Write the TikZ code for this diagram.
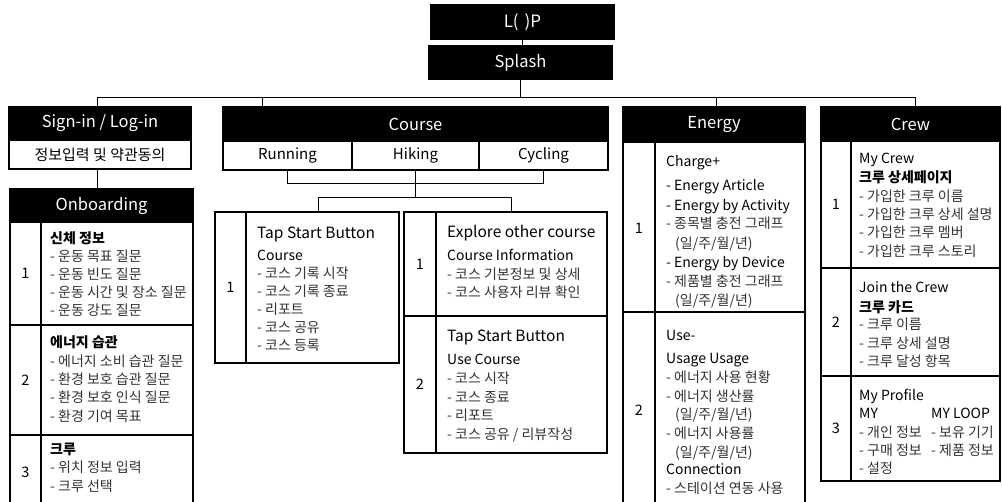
\documentclass[tikz,border=0pt]{standalone}
\usepackage{fontspec}
\setmainfont{Noto Sans CJK KR}
\definecolor{bodygray}{HTML}{333333}
\newcommand\mybox[7][]{\node[bxbase,#1,minimum width={#5pt-#3pt},minimum height={#6pt-#4pt}] (#2) at ({(#3+#5)/2},{(#4+#6)/2}) {#7};}
\begin{document}
\begin{tikzpicture}[x=1pt,y=-1pt,
  bxbase/.style={draw=black,line width=1.1pt,inner sep=0pt,outer sep=0pt},
  hdr/.style={fill=black,text=white,font=\fontsize{16.5}{18}\selectfont},
  sub/.style={fill=white,text=black,font=\fontsize{15}{16}\selectfont},
  cell/.style={fill=white,text=black,font=\fontsize{14.5}{16}\selectfont},
  txt/.style={anchor=west,inner sep=0pt,yshift=-1.5pt,text height=10.6pt,text depth=2.9pt,text=bodygray,font=\fontsize{14}{15}\selectfont},
  ttl/.style={txt,text=black,font=\fontsize{14.5}{15}\selectfont},
  big/.style={ttl,font=\fontsize{15.5}{16}\selectfont},
  conn/.style={draw=black,line width=0.9pt}]
\useasboundingbox (0,0) rectangle (1002,502);
\fill[white] (0,0) rectangle (1002,502);

% top
\mybox[hdr,font=\fontsize{17}{18}\selectfont]{loop}{431}{5}{614}{39}{L(\hspace{6pt})P}
\mybox[hdr]{splash}{429}{46}{612}{79}{Splash}
\coordinate (jS) at (97,97);
\coordinate (jC) at (262,97);
\coordinate (jEn) at (716,97);
\coordinate (jCr) at (915,97);

% sign-in / onboarding
\mybox[hdr]{signin}{9}{107}{191}{140}{Sign-in / Log-in}
\mybox[sub]{agree}{9}{140}{191}{169}{정보입력 및 약관동의}
\mybox[hdr]{onb}{10}{189}{193}{222}{Onboarding}
\mybox[cell]{onbN1}{10}{222}{41}{325}{1}
\mybox[cell]{onbC1}{41}{222}{193}{325}{}
\mybox[cell]{onbN2}{10}{325}{41}{435}{2}
\mybox[cell]{onbC2}{41}{325}{193}{435}{}
\mybox[cell]{onbN3}{10}{435}{41}{515}{}
\mybox[cell]{onbC3}{41}{435}{193}{515}{}
\node[cell,inner sep=0pt] (onbN3t) at (25.5,472) {3};

\foreach \yy/\tx [count=\i] in {238/{\bfseries\color{black}신체 정보},256/{- 운동 목표 질문},274/{- 운동 빈도 질문},292/{- 운동 시간 및 장소 질문},310/{- 운동 강도 질문}}
  \node[txt] (ob1-\i) at (50,\yy) {\tx};
\foreach \yy/\tx [count=\i] in {342/{\bfseries\color{black}에너지 습관},361/{- 에너지 소비 습관 질문},379/{- 환경 보호 습관 질문},397/{- 환경 보호 인식 질문},416/{- 환경 기여 목표}}
  \node[txt] (ob2-\i) at (50,\yy) {\tx};
\foreach \yy/\tx [count=\i] in {449/{\bfseries\color{black}크루},467/{- 위치 정보 입력},486/{- 크루 선택}}
  \node[txt] (ob3-\i) at (50,\yy) {\tx};

% course
\mybox[hdr]{course}{223}{107}{608}{141}{Course}
\mybox[sub]{running}{223}{141}{352}{170}{Running}
\mybox[sub]{hiking}{352}{141}{479}{170}{Hiking}
\mybox[sub]{cycling}{479}{141}{608}{170}{Cycling}
\mybox[cell]{caN}{215}{212}{246}{363}{1}
\mybox[cell]{caC}{246}{212}{399}{363}{}
\mybox[cell]{cbN1}{404}{212}{436}{316}{1}
\mybox[cell]{cbC1}{436}{212}{607}{316}{}
\mybox[cell]{cbN2}{404}{316}{436}{453}{2}
\mybox[cell]{cbC2}{436}{316}{607}{453}{}
\coordinate (bA) at (318,197);
\coordinate (bB) at (511,197);

\node[big] (ca-1) at (257,233) {Tap Start Button};
\foreach \yy/\tx [count=\i] in {255/{\color{black}Course},273/{- 코스 기록 시작},291/{- 코스 기록 종료},309/{- 리포트},327/{- 코스 공유},345/{- 코스 등록}}
  \node[txt] (ca-t\i) at (257,\yy) {\tx};
\node[big] (cb-1) at (447,232) {Explore other course};
\foreach \yy/\tx [count=\i] in {255/{\color{black}Course Information},274/{- 코스 기본정보 및 상세},292/{- 코스 사용자 리뷰 확인}}
  \node[txt] (cb-t\i) at (447,\yy) {\tx};
\node[big] (cc-1) at (447,336) {Tap Start Button};
\foreach \yy/\tx [count=\i] in {359/{\color{black}Use Course},378/{- 코스 시작},397/{- 코스 종료},415/{- 리포트},434/{- 코스 공유 / 리뷰작성}}
  \node[txt] (cc-t\i) at (447,\yy) {\tx};

% energy
\mybox[hdr]{energy}{623}{107}{805}{142}{Energy}
\mybox[cell]{enN1}{623}{142}{655}{312}{}
\mybox[cell]{enC1}{655}{142}{805}{312}{}
\mybox[cell]{enN2}{623}{312}{655}{515}{}
\mybox[cell]{enC2}{655}{312}{805}{515}{}
\node[cell,inner sep=0pt] (enN1t) at (639,228) {1};
\node[cell,inner sep=0pt] (enN2t) at (639,410) {2};
\foreach \xx/\yy/\tx [count=\i] in {666/161/{\color{black}Charge+},666/185/{\color{black}- Energy Article},666/205/{\color{black}- Energy by Activity},666/223/{- 종목별 충전 그래프},675/243/{(일/주/월/년)},666/262/{\color{black}- Energy by Device},666/281/{- 제품별 충전 그래프},675/300/{(일/주/월/년)}}
  \node[txt] (en1-\i) at (\xx,\yy) {\tx};
\foreach \xx/\yy/\tx [count=\i] in {666/335/{\color{black}Use-},666/358/{\color{black}Usage Usage},666/377/{- 에너지 사용 현황},666/396/{- 에너지 생산률},675/414/{(일/주/월/년)},666/433/{- 에너지 사용률},675/452/{(일/주/월/년)},666/469/{\color{black}Connection},666/488/{- 스테이션 연동 사용}}
  \node[txt] (en2-\i) at (\xx,\yy) {\tx};

% crew
\mybox[hdr]{crew}{821}{107}{1000}{141}{Crew}
\mybox[cell]{crN1}{821}{141}{851}{268}{1}
\mybox[cell]{crC1}{851}{141}{1000}{268}{}
\mybox[cell]{crN2}{821}{268}{851}{376}{2}
\mybox[cell]{crC2}{851}{268}{1000}{376}{}
\mybox[cell]{crN3}{821}{376}{851}{481}{3}
\mybox[cell]{crC3}{851}{376}{1000}{481}{}
\foreach \yy/\tx [count=\i] in {158/{\color{black}My Crew},177/{\bfseries\color{black}크루 상세페이지},196/{- 가입한 크루 이름},214/{- 가입한 크루 상세 설명},232/{- 가입한 크루 멤버},251/{- 가입한 크루 스토리}}
  \node[txt] (cr1-\i) at (859,\yy) {\tx};
\foreach \yy/\tx [count=\i] in {287/{\color{black}Join the Crew},307/{\bfseries\color{black}크루 카드},324/{- 크루 이름},343/{- 크루 상세 설명},361/{- 크루 달성 항목}}
  \node[txt] (cr2-\i) at (859,\yy) {\tx};
\foreach \yy/\tx [count=\i] in {395/{\color{black}My Profile},413/{\color{black}MY},432/{- 개인 정보},450/{- 구매 정보},468/{- 설정}}
  \node[txt] (cr3-\i) at (859,\yy) {\tx};
\foreach \yy/\tx [count=\i] in {413/{\color{black}MY LOOP},432/{- 보유 기기},450/{- 제품 정보}}
  \node[txt] (cr3b-\i) at (931,\yy) {\tx};

% connectors
\draw[conn] (loop.south) -- (loop.south |- splash.north);
\draw[conn] (splash.south) -- (splash.south |- jS);
\draw[conn] (jS) -- (jCr);
\draw[conn] (jS) -- (jS |- signin.north);
\draw[conn] (jC) -- (jC |- course.north);
\draw[conn] (jEn) -- (jEn |- energy.north);
\draw[conn] (jCr) -- (jCr |- crew.north);
\draw[conn] (agree.south -| jS) -- (jS |- onb.north);
\draw[conn] (running.south) -- ++(0,13) -| (cycling.south);
\draw[conn] (hiking.south) -- (hiking.south |- bA);
\draw[conn] (bA |- caC.north) -- (bA) -- (bB) -- (bB |- cbC1.north);
\end{tikzpicture}
\end{document}
